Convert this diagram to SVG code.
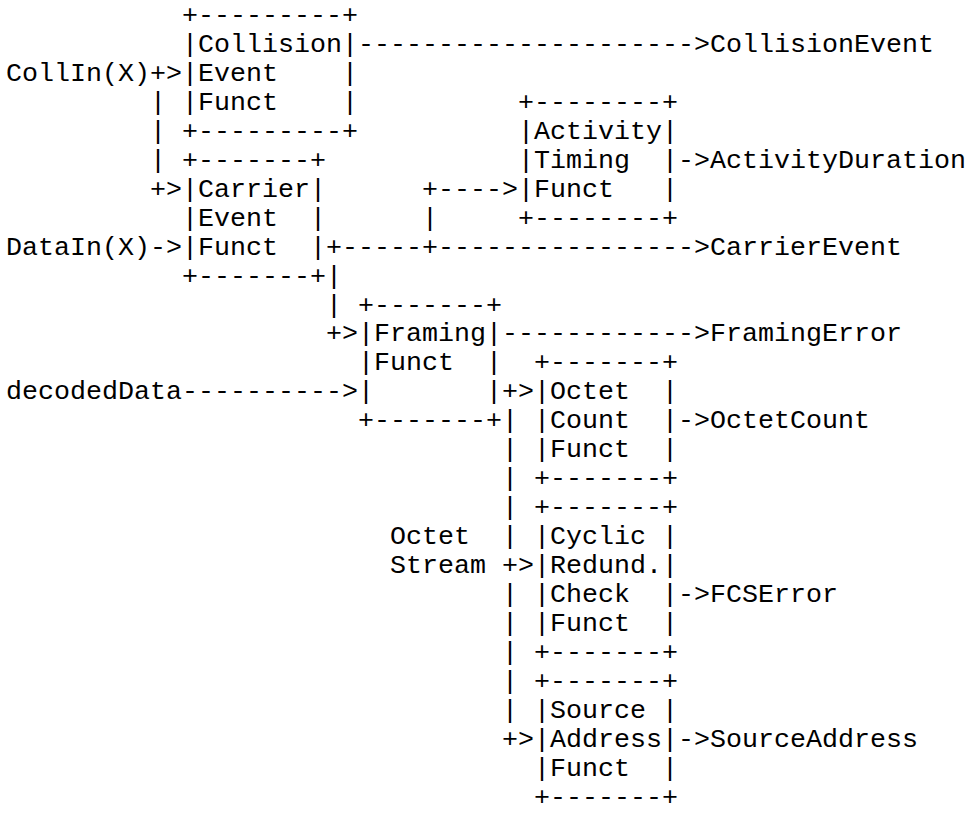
<svg xmlns="http://www.w3.org/2000/svg" width="968" height="814" viewBox="0 0 968 814" xml:space="preserve">
<style>
text{font-family:"Liberation Mono","Courier New",monospace;font-size:26.67px;fill:#000;white-space:pre}
</style>
<rect width="968" height="814" fill="#fff"/>
<g id="node-collision">
<text x="182" y="23">+---------+</text>
<text x="182" y="51.95">|Collision|</text>
<text x="182" y="80.9">|Event    |</text>
<text x="182" y="109.85">|Funct    |</text>
<text x="182" y="138.8">+---------+</text>
</g>
<g id="node-activity">
<text x="518" y="109.85">+--------+</text>
<text x="518" y="138.8">|Activity|</text>
<text x="518" y="167.75">|Timing  |</text>
<text x="518" y="196.7">|Funct   |</text>
<text x="518" y="225.65">+--------+</text>
</g>
<g id="node-carrier">
<text x="182" y="167.75">+-------+</text>
<text x="182" y="196.7">|Carrier|</text>
<text x="182" y="225.65">|Event  |</text>
<text x="182" y="254.6">|Funct  |</text>
<text x="182" y="283.55">+-------+</text>
</g>
<g id="node-framing">
<text x="358" y="312.5">+-------+</text>
<text x="358" y="341.45">|Framing|</text>
<text x="358" y="370.4">|Funct  |</text>
<text x="358" y="399.35">|       |</text>
<text x="358" y="428.3">+-------+</text>
</g>
<g id="node-octet">
<text x="534" y="370.4">+-------+</text>
<text x="534" y="399.35">|Octet  |</text>
<text x="534" y="428.3">|Count  |</text>
<text x="534" y="457.25">|Funct  |</text>
<text x="534" y="486.2">+-------+</text>
</g>
<g id="node-crc">
<text x="534" y="515.15">+-------+</text>
<text x="534" y="544.1">|Cyclic |</text>
<text x="534" y="573.05">|Redund.|</text>
<text x="534" y="602">|Check  |</text>
<text x="534" y="630.95">|Funct  |</text>
<text x="534" y="659.9">+-------+</text>
</g>
<g id="node-source">
<text x="534" y="688.85">+-------+</text>
<text x="534" y="717.8">|Source |</text>
<text x="534" y="746.75">|Address|</text>
<text x="534" y="775.7">|Funct  |</text>
<text x="534" y="804.65">+-------+</text>
</g>
<g id="connectors">
<text x="358" y="51.95">---------------------&gt;</text>
<text x="150" y="80.9">+&gt;</text>
<text x="150" y="109.85">|</text>
<text x="150" y="138.8">|</text>
<text x="150" y="167.75">|</text>
<text x="150" y="196.7">+&gt;</text>
<text x="422" y="196.7">+----&gt;</text>
<text x="422" y="225.65">|</text>
<text x="678" y="167.75">-&gt;</text>
<text x="150" y="254.6">-&gt;</text>
<text x="326" y="254.6">+-----+----------------&gt;</text>
<text x="326" y="283.55">|</text>
<text x="326" y="312.5">|</text>
<text x="326" y="341.45">+&gt;</text>
<text x="502" y="341.45">------------&gt;</text>
<text x="182" y="399.35">----------&gt;</text>
<text x="502" y="399.35">+&gt;</text>
<text x="502" y="428.3">|</text>
<text x="678" y="428.3">-&gt;</text>
<text x="502" y="457.25">|</text>
<text x="502" y="486.2">|</text>
<text x="502" y="515.15">|</text>
<text x="502" y="544.1">|</text>
<text x="502" y="573.05">+&gt;</text>
<text x="502" y="602">|</text>
<text x="678" y="602">-&gt;</text>
<text x="502" y="630.95">|</text>
<text x="502" y="659.9">|</text>
<text x="502" y="688.85">|</text>
<text x="502" y="717.8">|</text>
<text x="502" y="746.75">+&gt;</text>
<text x="678" y="746.75">-&gt;</text>
</g>
<g id="labels">
<text x="710" y="51.95">CollisionEvent</text>
<text x="6" y="80.9">CollIn(X)</text>
<text x="710" y="167.75">ActivityDuration</text>
<text x="6" y="254.6">DataIn(X)</text>
<text x="710" y="254.6">CarrierEvent</text>
<text x="710" y="341.45">FramingError</text>
<text x="6" y="399.35">decodedData</text>
<text x="710" y="428.3">OctetCount</text>
<text x="390" y="544.1">Octet</text>
<text x="390" y="573.05">Stream</text>
<text x="710" y="602">FCSError</text>
<text x="710" y="746.75">SourceAddress</text>
</g>
</svg>
